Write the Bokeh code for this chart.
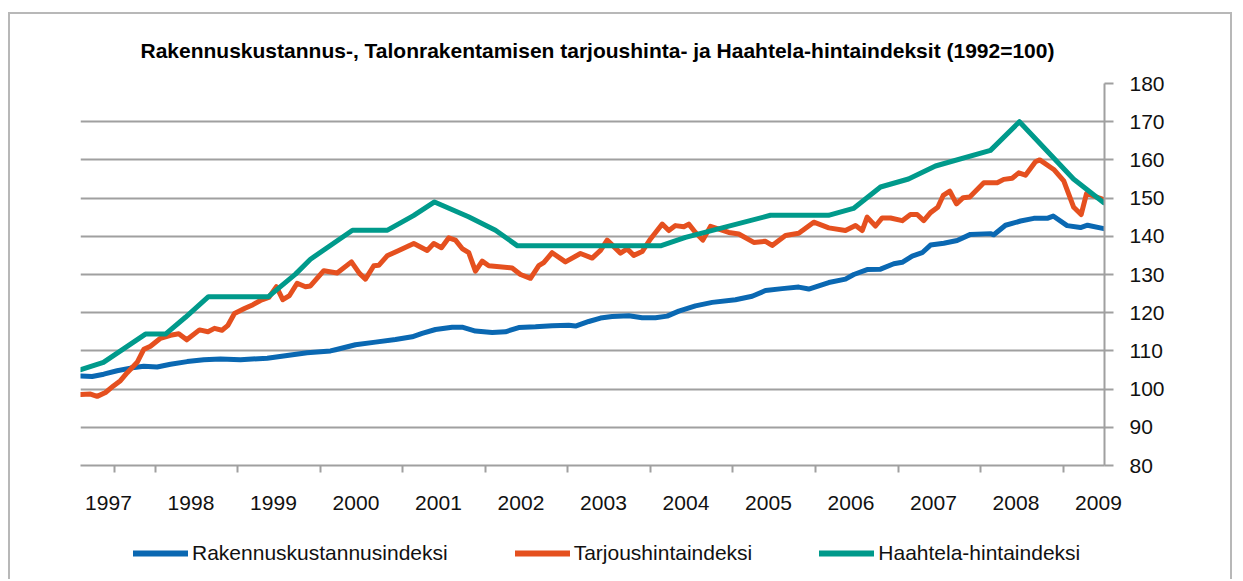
from bokeh.plotting import figure
from bokeh.layouts import column
from bokeh.models import Range1d, LinearAxis, FixedTicker, Grid, Legend, LegendItem
from bokeh.embed import file_html
from bokeh.resources import INLINE

TITLE = "Rakennuskustannus-, Talonrakentamisen tarjoushinta- ja Haahtela-hintaindeksit (1992=100)"
series_names = ["Rakennuskustannusindeksi", "Tarjoushintaindeksi", "Haahtela-hintaindeksi"]
series_colors = ["#0a68b2", "#e5501f", "#009a8b"]

year_labels = ["1997", "1998", "1999", "2000", "2001", "2002", "2003",
               "2004", "2005", "2006", "2007", "2008", "2009"]
year_positions = [1997, 1998, 1999, 2000, 2001, 2002, 2003,
                  2004, 2005, 2006, 2007, 2008, 2009]
x_tick_marks = [1997.073, 1997.57, 1998.57, 1999.57, 2000.57, 2001.57, 2002.57,
                2003.57, 2004.57, 2005.57, 2006.57, 2007.57, 2008.57]
y_ticks = [80, 90, 100, 110, 120, 130, 140, 150, 160, 170, 180]

# Rakennuskustannusindeksi
rk_x = [1996.665, 1996.802, 1996.943, 1997.105, 1997.267, 1997.428, 1997.590, 1997.752,
        1997.954, 1998.155, 1998.358, 1998.600, 1998.924, 1999.166, 1999.408, 1999.691,
        1999.752, 1999.994, 2000.236, 2000.479, 2000.681, 2000.802, 2000.964, 2001.166,
        2001.287, 2001.448, 2001.651, 2001.812, 2001.973, 2002.176, 2002.378, 2002.579,
        2002.661, 2002.822, 2002.964, 2003.105, 2003.307, 2003.469, 2003.630, 2003.772,
        2003.913, 2004.115, 2004.318, 2004.600, 2004.802, 2004.964, 2005.166, 2005.367,
        2005.488, 2005.731, 2005.933, 2006.034, 2006.196, 2006.358, 2006.519, 2006.621,
        2006.742, 2006.863, 2006.964, 2007.125, 2007.287, 2007.448, 2007.691, 2007.731,
        2007.873, 2008.055, 2008.216, 2008.378, 2008.451, 2008.620, 2008.782, 2008.867,
        2009.065]
rk_y = [103.4, 103.3, 103.9, 104.8, 105.5, 106.0, 105.8, 106.5,
        107.2, 107.7, 107.9, 107.7, 108.1, 108.8, 109.5, 110.0,
        110.3, 111.6, 112.3, 113.0, 113.7, 114.6, 115.6, 116.2,
        116.2, 115.2, 114.8, 115.0, 116.1, 116.3, 116.6, 116.7,
        116.5, 117.7, 118.6, 119.0, 119.2, 118.7, 118.7, 119.1,
        120.4, 121.8, 122.7, 123.4, 124.3, 125.8, 126.3, 126.7,
        126.2, 127.9, 128.8, 130.0, 131.3, 131.4, 132.8, 133.2,
        134.8, 135.7, 137.7, 138.2, 138.9, 140.5, 140.7, 140.4,
        142.9, 144.0, 144.7, 144.7, 145.3, 142.8, 142.3, 142.9,
        142.0]

# Tarjoushintaindeksi
th_x = [1996.665, 1996.782, 1996.863, 1996.964, 1997.064, 1997.145, 1997.227, 1997.348,
        1997.428, 1997.509, 1997.630, 1997.752, 1997.852, 1997.949, 1998.103, 1998.206,
        1998.285, 1998.376, 1998.448, 1998.527, 1998.648, 1998.752, 1998.842, 1998.943,
        1999.036, 1999.113, 1999.194, 1999.287, 1999.388, 1999.448, 1999.610, 1999.772,
        1999.945, 2000.042, 2000.115, 2000.216, 2000.276, 2000.378, 2000.519, 2000.701,
        2000.863, 2000.943, 2001.036, 2001.125, 2001.206, 2001.287, 2001.367, 2001.448,
        2001.530, 2001.610, 2001.893, 2001.994, 2002.115, 2002.216, 2002.276, 2002.378,
        2002.539, 2002.721, 2002.863, 2002.964, 2003.045, 2003.206, 2003.287, 2003.367,
        2003.469, 2003.570, 2003.712, 2003.792, 2003.873, 2003.974, 2004.034, 2004.115,
        2004.204, 2004.297, 2004.519, 2004.640, 2004.822, 2004.964, 2005.045, 2005.206,
        2005.367, 2005.549, 2005.731, 2005.933, 2006.055, 2006.136, 2006.196, 2006.297,
        2006.378, 2006.479, 2006.621, 2006.721, 2006.802, 2006.882, 2006.964, 2007.052,
        2007.118, 2007.198, 2007.279, 2007.360, 2007.440, 2007.610, 2007.772, 2007.852,
        2007.954, 2008.034, 2008.115, 2008.236, 2008.288, 2008.458, 2008.579, 2008.700,
        2008.790, 2008.855, 2009.065]
th_y = [98.6, 98.7, 98.1, 99.1, 100.9, 102.2, 104.3, 107.0,
        110.4, 111.2, 113.3, 114.1, 114.5, 112.9, 115.5, 115.0,
        115.9, 115.4, 116.7, 119.8, 121.1, 122.1, 123.2, 124.0,
        126.8, 123.4, 124.5, 127.7, 126.8, 127.0, 131.0, 130.4,
        133.3, 130.3, 128.8, 132.3, 132.4, 134.9, 136.3, 138.1,
        136.3, 138.1, 137.0, 139.6, 139.0, 136.8, 135.7, 130.9,
        133.5, 132.3, 131.7, 130.0, 129.0, 132.3, 133.1, 135.7,
        133.3, 135.5, 134.3, 136.3, 139.0, 135.6, 136.7, 135.0,
        136.0, 139.3, 143.2, 141.5, 142.8, 142.5, 143.2, 141.0,
        139.0, 142.6, 141.0, 140.6, 138.4, 138.7, 137.6, 140.2,
        140.8, 143.7, 142.2, 141.5, 142.8, 141.5, 145.0, 142.7,
        144.8, 144.8, 144.1, 145.7, 145.7, 144.1, 146.2, 147.6,
        150.7, 151.8, 148.5, 150.1, 150.3, 154.0, 154.0, 154.9,
        155.2, 156.6, 156.0, 159.5, 160.0, 157.5, 154.5, 147.6,
        145.7, 151.2, 149.6]

# Haahtela-hintaindeksi
hh_x = [1996.665, 1996.939, 1997.448, 1997.691, 1997.933, 1998.212, 1998.939, 1999.267,
        1999.448, 1999.958, 2000.382, 2000.697, 2000.952, 2001.364, 2001.691, 2001.958,
        2003.691, 2003.994, 2005.024, 2005.727, 2006.030, 2006.358, 2006.697, 2007.024,
        2007.691, 2008.042, 2008.697, 2009.065]
hh_y = [105.1, 107.0, 114.4, 114.4, 118.8, 124.2, 124.2, 130.1,
        134.0, 141.6, 141.6, 145.4, 149.0, 145.1, 141.6, 137.5,
        137.5, 139.7, 145.5, 145.5, 147.3, 152.9, 155.0, 158.4,
        162.5, 170.0, 155.0, 148.8]

series_x = [rk_x, th_x, hh_x]
series_y = [rk_y, th_y, hh_y]

FONT = "Liberation Sans"
GRID = "#a0a0a0"

# ---- main chart ----
p = figure(width=1220, height=511,
           min_border_left=70, min_border_right=126, min_border_top=68, min_border_bottom=60,
           x_range=Range1d(1996.661, 2009.073), y_range=Range1d(80, 180),
           x_axis_location=None, y_axis_location=None,
           output_backend="svg", toolbar_location=None)
p.xgrid.visible = False
p.ygrid.visible = False
p.outline_line_color = None
p.background_fill_color = "white"
p.border_fill_color = "white"

p.title.text = TITLE
p.title.align = "left"
p.title.offset = 60
p.title.standoff = 44
p.title.text_font = FONT
p.title.text_font_size = "21px"
p.title.text_font_style = "bold"
p.title.text_color = "#000000"

yaxis = LinearAxis(ticker=FixedTicker(ticks=y_ticks))
yaxis.axis_line_color = GRID
yaxis.axis_line_width = 2
yaxis.major_tick_line_color = GRID
yaxis.major_tick_line_width = 2
yaxis.major_tick_out = 9
yaxis.major_tick_in = 0
yaxis.minor_tick_line_color = None
yaxis.major_label_standoff = 16
yaxis.major_label_text_font = FONT
yaxis.major_label_text_font_size = "21px"
yaxis.major_label_text_color = "#111111"
p.add_layout(yaxis, "right")

xaxis = LinearAxis(ticker=FixedTicker(ticks=year_positions, minor_ticks=x_tick_marks))
xaxis.major_label_overrides = {pos: lab for pos, lab in zip(year_positions, year_labels)}
xaxis.axis_line_color = GRID
xaxis.axis_line_width = 2
xaxis.major_tick_line_color = None
xaxis.major_tick_out = 0
xaxis.major_tick_in = 0
xaxis.minor_tick_line_color = GRID
xaxis.minor_tick_line_width = 2
xaxis.minor_tick_out = 7
xaxis.minor_tick_in = 0
xaxis.major_label_standoff = 23
xaxis.major_label_text_font = FONT
xaxis.major_label_text_font_size = "21px"
xaxis.major_label_text_color = "#111111"
p.add_layout(xaxis, "below")

p.add_layout(Grid(dimension=1, ticker=FixedTicker(ticks=y_ticks),
                  grid_line_color=GRID, grid_line_width=2))

for xs, ys, color in zip(series_x, series_y, series_colors):
    p.line(xs, ys, line_color=color, line_width=5, line_join="round", line_cap="round")

# ---- legend strip (its frame is aligned with the chart frame by the column) ----
lg = figure(width=1220, height=54, min_border=0,
            x_range=Range1d(0, 1), y_range=Range1d(0, 1),
            x_axis_location=None, y_axis_location=None,
            output_backend="svg", toolbar_location=None)
lg.xgrid.visible = False
lg.ygrid.visible = False
lg.outline_line_color = None
lg.background_fill_color = "white"
lg.border_fill_color = "white"

items = []
for name, color, xs, ys in zip(series_names, series_colors, series_x, series_y):
    r = lg.line(xs, ys, line_color=color, line_width=6, line_cap="round")
    items.append(LegendItem(label=name, renderers=[r]))

legend = Legend(items=items, orientation="horizontal", location=(53, 14),
                glyph_width=55, glyph_height=20, label_standoff=4, spacing=67,
                padding=0, margin=0,
                label_text_font=FONT, label_text_font_size="21px", label_text_color="#111111",
                border_line_color=None, background_fill_alpha=0)
lg.add_layout(legend)

layout = column(p, lg, spacing=0)
layout.styles = {"border-top": "2px solid #b8b8b8", "border-left": "2px solid #b8b8b8",
                 "border-right": "2px solid #b8b8b8", "margin-top": "12px", "margin-left": "8px"}

open("out.html", "w").write(file_html(layout, INLINE))
